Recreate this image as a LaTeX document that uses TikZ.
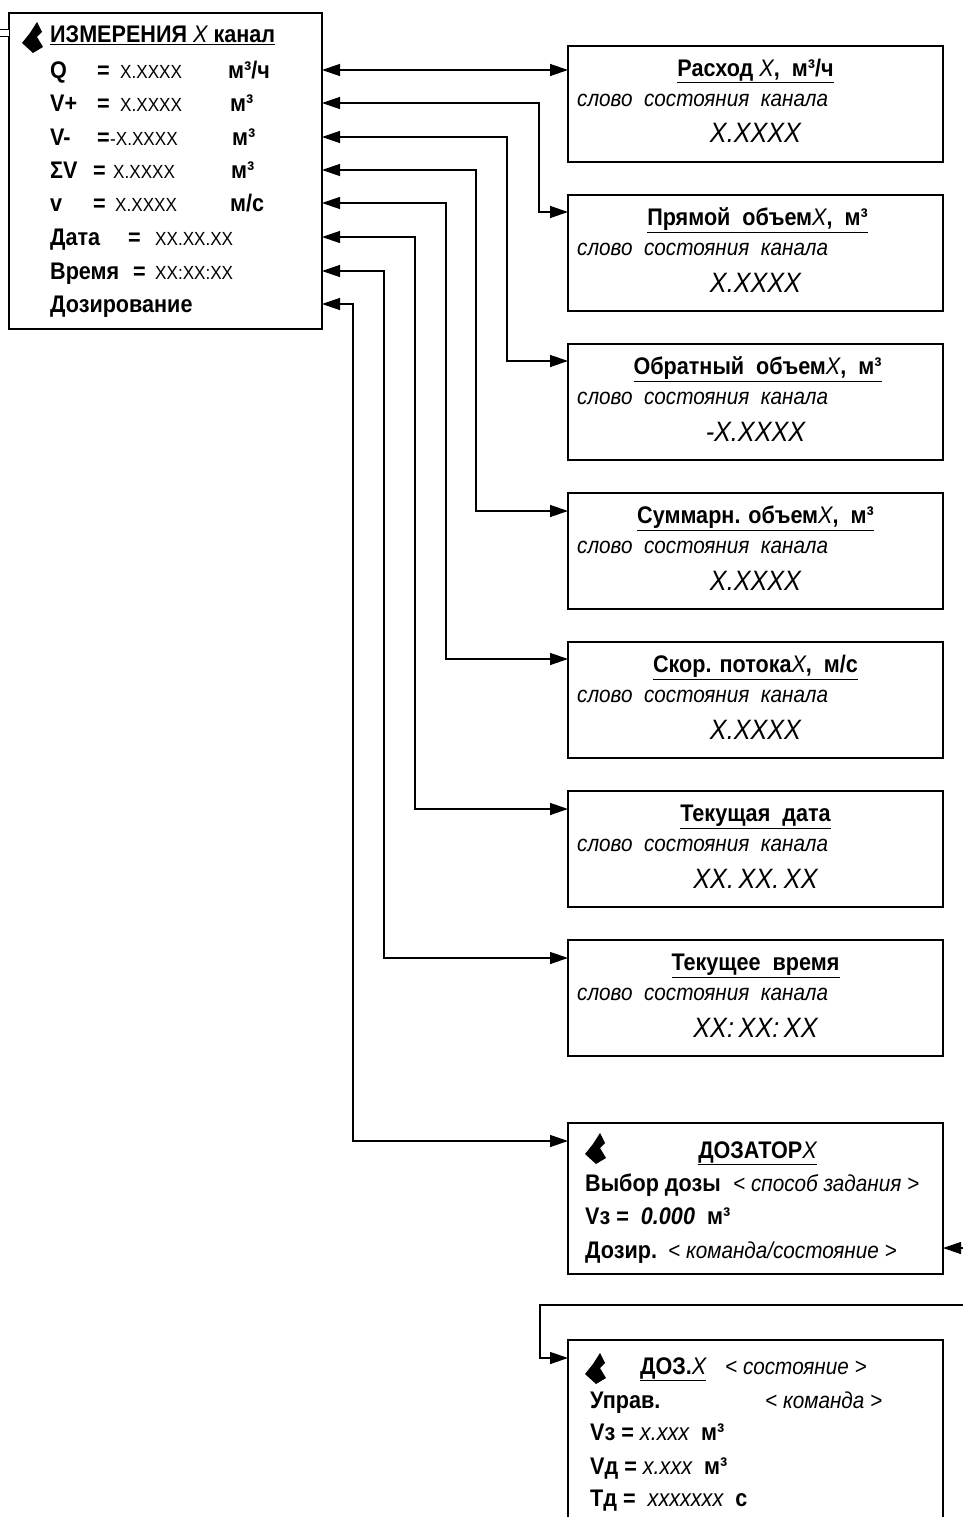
\documentclass[tikz,border=0pt]{standalone}
\usepackage{fontspec}
\setmainfont{Liberation Sans}[FakeStretch=0.9]
\usetikzlibrary{arrows.meta,positioning}
\newcommand{\plh}[1]{{\mdseries\itshape #1}}
\newcommand{\rdval}[1]{{\mdseries\fontsize{19}{20}\selectfont #1}}

\begin{document}
\begin{tikzpicture}[x=1pt, y=-1pt,
  node distance=33pt,
  panel/.style={draw, line width=2.6pt, anchor=north west, inner sep=0pt, outer sep=0pt, minimum width=375pt, minimum height=116pt},
  lbl/.style={anchor=west, inner sep=0pt, text height=17pt, text depth=0pt, font=\fontsize{24}{25}\selectfont\bfseries},
  hdr/.style={inner sep=0pt, text height=17pt, text depth=0pt, font=\fontsize{24}{25}\selectfont\bfseries},
  word/.style={anchor=west, inner sep=0pt, text height=17pt, text depth=0pt, font=\fontsize{23}{24}\selectfont\itshape},
  num/.style={inner sep=0pt, text height=20pt, text depth=0pt, font=\fontsize{28}{30}\selectfont\itshape},
  link/.style={line width=1.3pt},
  arr/.style={link, ->},
  both/.style={link, <->},
  >={Triangle[length=18pt,width=12pt]},
  pin/.pic={\fill (5,-15) -- (10,-5) -- (5,0) -- (11,10) -- (1,16) -- (-10,6) -- (-2,-4) -- cycle;}
]
\useasboundingbox (0,0) rectangle (963,1517);
\clip (0,0) rectangle (963,1517);

% measurement menu
\node[panel, minimum width=313pt, minimum height=316pt] (meas) at (9,13) {};
\pic at (32,37) {pin};
\node[lbl] (meas-title) at (50,34) {\underline{ИЗМЕРЕНИЯ \plh{X} канал}};
\node[lbl] (q) at (50,70) {\makebox[47pt][l]{Q}\makebox[23pt][l]{=}\makebox[108pt][l]{\rdval{X.XXXX}}м³/ч};
\node[lbl] (vp) at (50,103) {\makebox[47pt][l]{V+}\makebox[23pt][l]{=}\makebox[110pt][l]{\rdval{X.XXXX}}м³};
\node[lbl] (vm) at (50,137) {\makebox[47pt][l]{V-}\makebox[13pt][l]{=}\makebox[122pt][l]{\rdval{-X.XXXX}}м³};
\node[lbl] (vs) at (50,170) {\makebox[43pt][l]{ΣV}\makebox[20pt][l]{=}\makebox[118pt][l]{\rdval{X.XXXX}}м³};
\node[lbl] (vel) at (50,203) {\makebox[43pt][l]{v}\makebox[22pt][l]{=}\makebox[115pt][l]{\rdval{X.XXXX}}м/с};
\node[lbl] (date) at (50,237) {\makebox[78pt][l]{Дата}\makebox[27pt][l]{=}\rdval{XX.XX.XX}};
\node[lbl] (time) at (50,271) {\makebox[83pt][l]{Время}\makebox[22pt][l]{=}\rdval{XX:XX:XX}};
\node[lbl] (dose) at (50,304) {Дозирование};

% parameter windows
\node[panel] (flow) at (568,46) {};
\node[panel, below=of flow] (fwd) {};
\node[panel, below=of fwd] (rev) {};
\node[panel, below=of rev] (total) {};
\node[panel, below=of total] (speed) {};
\node[panel, below=of speed] (day) {};
\node[panel, below=of day] (clock) {};
\node[panel, minimum height=151pt, below=67pt of clock] (dozer) {};
\node[panel, minimum height=210pt, below=66pt of dozer] (doser) {};

\node[hdr] (flow-title) at ([yshift=-22pt]flow.north) {\underline{Расход \plh{X}, \ м³/ч}};
\node[word] (flow-state) at ([xshift=9pt,yshift=-52pt]flow.north west) {слово \ состояния \ канала};
\node[num] (flow-value) at ([yshift=-87pt]flow.north) {X.XXXX};

\node[hdr] (fwd-title) at ([xshift=2pt,yshift=-22pt]fwd.north) {\underline{Прямой \ объем\plh{X}, \ м³}};
\node[word] (fwd-state) at ([xshift=9pt,yshift=-52pt]fwd.north west) {слово \ состояния \ канала};
\node[num] (fwd-value) at ([yshift=-87pt]fwd.north) {X.XXXX};

\node[hdr] (rev-title) at ([xshift=2pt,yshift=-22pt]rev.north) {\underline{Обратный \ объем\plh{X}, \ м³}};
\node[word] (rev-state) at ([xshift=9pt,yshift=-52pt]rev.north west) {слово \ состояния \ канала};
\node[num] (rev-value) at ([yshift=-87pt]rev.north) {-X.XXXX};

\node[hdr] (total-title) at ([yshift=-22pt]total.north) {\underline{Суммарн. объем\plh{X}, \ м³}};
\node[word] (total-state) at ([xshift=9pt,yshift=-52pt]total.north west) {слово \ состояния \ канала};
\node[num] (total-value) at ([yshift=-87pt]total.north) {X.XXXX};

\node[hdr] (speed-title) at ([yshift=-22pt]speed.north) {\underline{Скор. потока\plh{X}, \ м/с}};
\node[word] (speed-state) at ([xshift=9pt,yshift=-52pt]speed.north west) {слово \ состояния \ канала};
\node[num] (speed-value) at ([yshift=-87pt]speed.north) {X.XXXX};

\node[hdr] (day-title) at ([yshift=-22pt]day.north) {\underline{Текущая \ дата}};
\node[word] (day-state) at ([xshift=9pt,yshift=-52pt]day.north west) {слово \ состояния \ канала};
\node[num] (day-value) at ([yshift=-87pt]day.north) {XX.\,XX.\,XX};

\node[hdr] (clock-title) at ([yshift=-22pt]clock.north) {\underline{Текущее \ время}};
\node[word] (clock-state) at ([xshift=9pt,yshift=-52pt]clock.north west) {слово \ состояния \ канала};
\node[num] (clock-value) at ([yshift=-87pt]clock.north) {XX:\,XX:\,XX};

% dosing windows
\pic at (595,1148) {pin};
\node[hdr] (dozer-title) at ([xshift=2pt,yshift=-27pt]dozer.north) {\underline{ДОЗАТОР\plh{X}}};
\node[lbl] (dozer-pick) at ([xshift=17pt,yshift=-60pt]dozer.north west) {Выбор дозы};
\node[word] (dozer-mode) at ([xshift=165pt,yshift=-60pt]dozer.north west) {\mdseries < способ задания >};
\node[lbl] (dozer-vol) at ([xshift=17pt,yshift=-93pt]dozer.north west) {Vз = \ \textit{0.000} \ м³};
\node[lbl] (dozer-run) at ([xshift=17pt,yshift=-127pt]dozer.north west) {Дозир.};
\node[word] (dozer-cmd) at ([xshift=100pt,yshift=-127pt]dozer.north west) {\mdseries < команда/состояние >};

\pic at (595,1368) {pin};
\node[lbl] (doser-title) at ([xshift=72pt,yshift=-26pt]doser.north west) {\underline{ДОЗ.\plh{X}}};
\node[word] (doser-state) at ([xshift=157pt,yshift=-26pt]doser.north west) {\mdseries < состояние >};
\node[lbl] (doser-ctl) at ([xshift=22pt,yshift=-60pt]doser.north west) {Управ.};
\node[word] (doser-cmd) at ([xshift=197pt,yshift=-60pt]doser.north west) {\mdseries < команда >};
\node[lbl] (doser-vz) at ([xshift=22pt,yshift=-92pt]doser.north west) {Vз = \plh{x.xxx} \ м³};
\node[lbl] (doser-vd) at ([xshift=22pt,yshift=-126pt]doser.north west) {Vд = \plh{x.xxx} \ м³};
\node[lbl] (doser-td) at ([xshift=22pt,yshift=-158pt]doser.north west) {Тд = \ \plh{xxxxxxx} \ с};

% connectors
\coordinate (src) at (-5,33);
\coordinate (feed) at (975,1248);
\coordinate (cmd) at (975,1305);
\draw[link, double, double distance=6pt] (src) -- (meas.west |- src);
\draw[both] (meas.east |- q) -- (flow.west |- q);
\draw[both] (meas.east |- vp) -| ([xshift=-29pt,yshift=-17pt]fwd.north west) -- ([yshift=-17pt]fwd.north west);
\draw[both] (meas.east |- vm) -| ([xshift=-61pt,yshift=-17pt]rev.north west) -- ([yshift=-17pt]rev.north west);
\draw[both] (meas.east |- vs) -| ([xshift=-92pt,yshift=-18pt]total.north west) -- ([yshift=-18pt]total.north west);
\draw[both] (meas.east |- vel) -| ([xshift=-122pt,yshift=-17pt]speed.north west) -- ([yshift=-17pt]speed.north west);
\draw[both] (meas.east |- date) -| ([xshift=-153pt,yshift=-18pt]day.north west) -- ([yshift=-18pt]day.north west);
\draw[both] (meas.east |- time) -| ([xshift=-184pt,yshift=-18pt]clock.north west) -- ([yshift=-18pt]clock.north west);
\draw[both] (meas.east |- dose) -| ([xshift=-215pt,yshift=-18pt]dozer.north west) -- ([yshift=-18pt]dozer.north west);
\draw[arr] (feed) -- (dozer.east |- feed);
\draw[arr] (cmd) -| ([xshift=-28pt,yshift=-18pt]doser.north west) -- ([yshift=-18pt]doser.north west);
\end{tikzpicture}
\end{document}
